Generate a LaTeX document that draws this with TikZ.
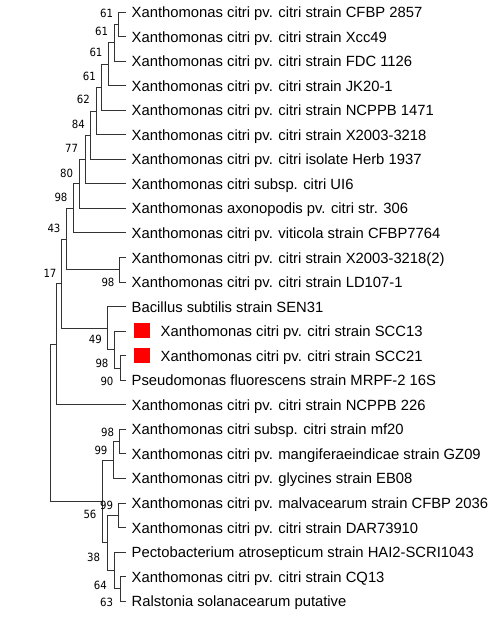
\documentclass[tikz,border=0pt]{standalone}
\usepackage{fontspec}
\setmainfont{Liberation Sans}
\newfontfamily\bsfont{DejaVu Sans Condensed}
\usetikzlibrary{calc}
\tikzset{
  br/.style={draw=black!80, line width=0.9pt},
  lab/.style={anchor=base west, inner sep=0pt, font=\fontsize{14.8}{16}\selectfont},
  bs/.style={anchor=center, inner sep=0pt, font=\bsfont\fontsize{11.3}{12}\selectfont},
  mark box/.style={fill=red, draw=none, minimum width=16pt, minimum height=15pt, inner sep=0pt}
}
\begin{document}
\begin{tikzpicture}[x=1pt,y=-1pt]
\useasboundingbox (0,0) rectangle (496,617);
% leaf ends
\foreach \i/\yy in {1/12,2/36.55,3/61.1,4/85.65,5/110.2,6/134.75,7/159.3,8/183.85,9/208.4,10/232.95,11/257.5,12/282.05,13/306.6,14/331.15,15/355.7,16/380.25,17/404.8,18/429.35,19/453.9,20/478.45,21/503,22/527.55,23/552.1,24/576.65,25/601.2}
  \coordinate (l\i) at (125.5,\yy);
% internal nodes
\coordinate (A) at (118.3,24.28);
\coordinate (B) at (114,42.69);
\coordinate (C) at (108.3,64.17);
\coordinate (D) at (101.7,87.18);
\coordinate (E) at (96.7,110.97);
\coordinate (F) at (90,135.13);
\coordinate (G) at (85,159.49);
\coordinate (H) at (79.3,183.95);
\coordinate (I) at (73.3,208.45);
\coordinate (K) at (119,269.78);
\coordinate (J) at (66.7,239.11);
\coordinate (O) at (120,367.98);
\coordinate (N) at (114,349.56);
\coordinate (M) at (107.3,328.08);
\coordinate (L) at (61.7,283.6);
\coordinate (P) at (56,344.2);
\coordinate (S) at (119,441.63);
\coordinate (T) at (113.3,460.04);
\coordinate (V) at (118.5,515.28);
\coordinate (X) at (120,588.93);
\coordinate (W) at (114.3,570.51);
\coordinate (U) at (107.7,542.9);
\coordinate (R) at (102.3,501.47);
\coordinate (Q) at (50,422.8);
% branches
\draw[br] (A) |- (l1) (A) |- (l2);
\draw[br] (B) |- (A) (B) |- (l3);
\draw[br] (C) |- (B) (C) |- (l4);
\draw[br] (D) |- (C) (D) |- (l5);
\draw[br] (E) |- (D) (E) |- (l6);
\draw[br] (F) |- (E) (F) |- (l7);
\draw[br] (G) |- (F) (G) |- (l8);
\draw[br] (H) |- (G) (H) |- (l9);
\draw[br] (I) |- (H) (I) |- (l10);
\draw[br] (K) |- (l11) (K) |- (l12);
\draw[br] (J) |- (I) (J) |- (K);
\draw[br] (O) |- (l15) (O) |- (l16);
\draw[br] (N) |- (l14) (N) |- (O);
\draw[br] (M) |- (l13) (M) |- (N);
\draw[br] (L) |- (J) (L) |- (M);
\draw[br] (P) |- (L) (P) |- (l17);
\draw[br] (S) |- (l18) (S) |- (l19);
\draw[br] (T) |- (S) (T) |- (l20);
\draw[br] (V) |- (l21) (V) |- (l22);
\draw[br] (X) |- (l24) (X) |- (l25);
\draw[br] (W) |- (l23) (W) |- (X);
\draw[br] (U) |- (V) (U) |- (W);
\draw[br] (R) |- (T) (R) |- (U);
\draw[br] (Q) |- (P) (Q) |- (R);
% bootstrap values
\node[bs] (bA) at ($(A)+(-11.6,-11)$) {61};
\node[bs] (bB) at ($(B)+(-12.3,-11)$) {61};
\node[bs] (bC) at ($(C)+(-12.3,-11.4)$) {61};
\node[bs] (bD) at ($(D)+(-12.4,-11.2)$) {61};
\node[bs] (bE) at ($(E)+(-13.4,-11.7)$) {62};
\node[bs] (bF) at ($(F)+(-11.7,-11.1)$) {84};
\node[bs] (bG) at ($(G)+(-13.3,-11.2)$) {77};
\node[bs] (bH) at ($(H)+(-12.6,-10.7)$) {80};
\node[bs] (bI) at ($(I)+(-12.3,-11.1)$) {98};
\node[bs] (bJ) at ($(J)+(-12.7,-11.1)$) {43};
\node[bs] (bK) at ($(K)+(-11,13)$) {98};
\node[bs] (bL) at ($(L)+(-11.7,-10.6)$) {17};
\node[bs] (bM) at ($(M)+(-12,11.5)$) {49};
\node[bs] (bN) at ($(N)+(-12,13.4)$) {98};
\node[bs] (bO) at ($(O)+(-13,13)$) {90};
\node[bs] (bS) at ($(S)+(-11.3,-9.6)$) {98};
\node[bs] (bT) at ($(T)+(-12.3,-10)$) {99};
\node[bs] (bV) at ($(V)+(-11.8,-9.6)$) {99};
\node[bs] (bR) at ($(R)+(-12.3,13)$) {56};
\node[bs] (bU) at ($(U)+(-14,14)$) {38};
\node[bs] (bW) at ($(W)+(-14,14.5)$) {64};
\node[bs] (bX) at ($(X)+(-13.3,13.1)$) {63};
% red markers
\node[mark box] (sq14) at (142,330.6) {};
\node[mark box] (sq15) at (142,355.2) {};
% leaf labels
\node[lab] (t1) at ($(l1)+(6,5.5)$) {Xanthomonas citri pv. citri strain CFBP 2857};
\node[lab] (t2) at ($(l2)+(6,5.5)$) {Xanthomonas citri pv. citri strain Xcc49};
\node[lab] (t3) at ($(l3)+(6,5.5)$) {Xanthomonas citri pv. citri strain FDC 1126};
\node[lab] (t4) at ($(l4)+(6,5.5)$) {Xanthomonas citri pv. citri strain JK20-1};
\node[lab] (t5) at ($(l5)+(6,5.5)$) {Xanthomonas citri pv. citri strain NCPPB 1471};
\node[lab] (t6) at ($(l6)+(6,5.5)$) {Xanthomonas citri pv. citri strain X2003-3218};
\node[lab] (t7) at ($(l7)+(6,5.5)$) {Xanthomonas citri pv. citri isolate Herb 1937};
\node[lab] (t8) at ($(l8)+(6,5.5)$) {Xanthomonas citri subsp. citri UI6};
\node[lab] (t9) at ($(l9)+(6,5.5)$) {Xanthomonas axonopodis pv. citri str. 306};
\node[lab] (t10) at ($(l10)+(6,5.5)$) {Xanthomonas citri pv. viticola strain CFBP7764};
\node[lab] (t11) at ($(l11)+(6,5.5)$) {Xanthomonas citri pv. citri strain X2003-3218(2)};
\node[lab] (t12) at ($(l12)+(6,5.5)$) {Xanthomonas citri pv. citri strain LD107-1};
\node[lab] (t13) at ($(l13)+(6,5.5)$) {Bacillus subtilis strain SEN31};
\node[lab] (t14) at ($(l14)+(35,5.5)$) {Xanthomonas citri pv. citri strain SCC13};
\node[lab] (t15) at ($(l15)+(35,5.5)$) {Xanthomonas citri pv. citri strain SCC21};
\node[lab] (t16) at ($(l16)+(6,5.5)$) {Pseudomonas fluorescens strain MRPF-2 16S};
\node[lab] (t17) at ($(l17)+(6,5.5)$) {Xanthomonas citri pv. citri strain NCPPB 226};
\node[lab] (t18) at ($(l18)+(6,5.5)$) {Xanthomonas citri subsp. citri strain mf20};
\node[lab] (t19) at ($(l19)+(6,5.5)$) {Xanthomonas citri pv. mangiferaeindicae strain GZ09};
\node[lab] (t20) at ($(l20)+(6,5.5)$) {Xanthomonas citri pv. glycines strain EB08};
\node[lab] (t21) at ($(l21)+(6,5.5)$) {Xanthomonas citri pv. malvacearum strain CFBP 2036};
\node[lab] (t22) at ($(l22)+(6,5.5)$) {Xanthomonas citri pv. citri strain DAR73910};
\node[lab] (t23) at ($(l23)+(6,5.5)$) {Pectobacterium atrosepticum strain HAI2-SCRI1043};
\node[lab] (t24) at ($(l24)+(6,5.5)$) {Xanthomonas citri pv. citri strain CQ13};
\node[lab] (t25) at ($(l25)+(6,5.5)$) {Ralstonia solanacearum putative};
\end{tikzpicture}
\end{document}
